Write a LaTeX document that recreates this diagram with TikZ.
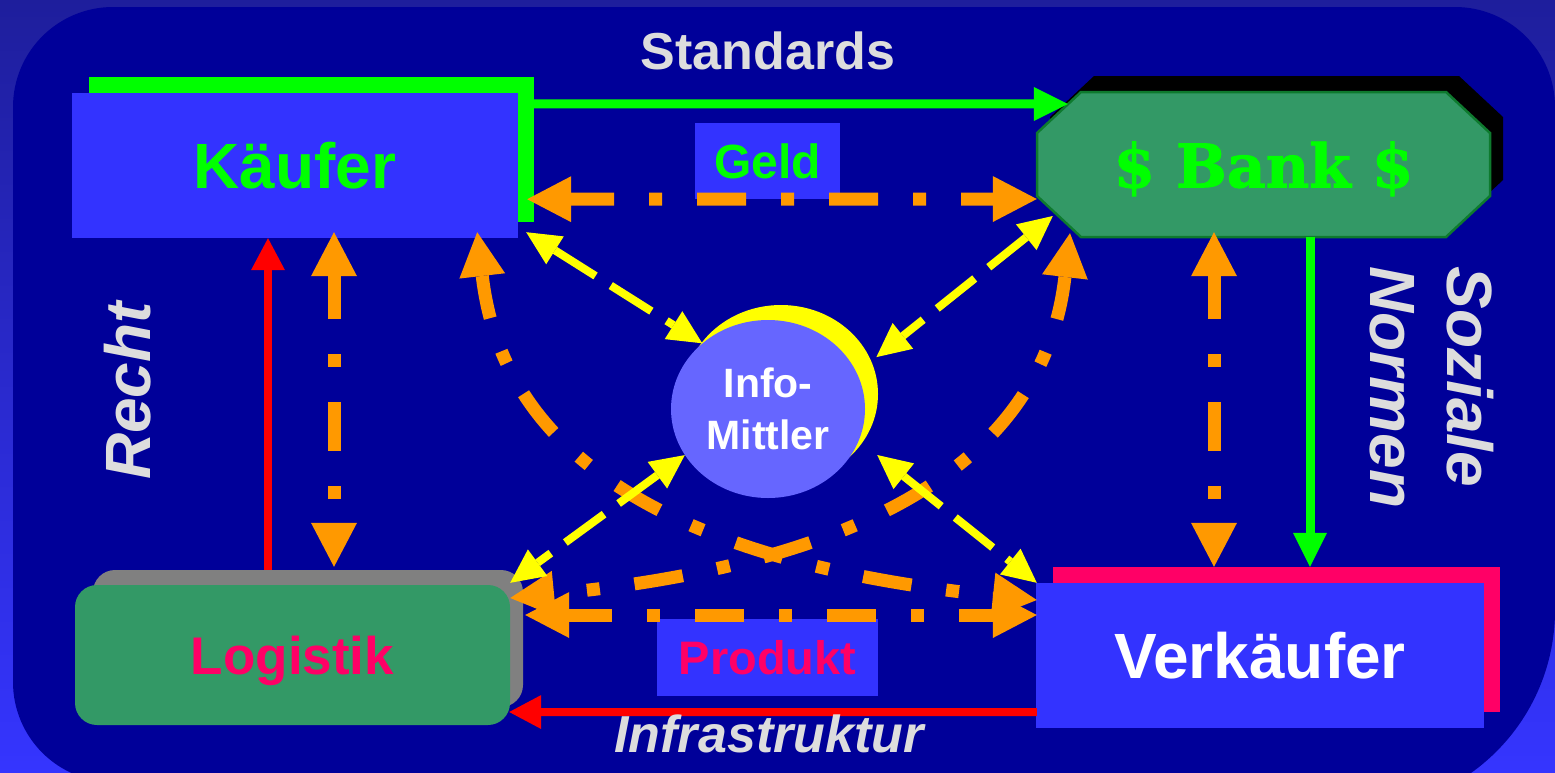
\documentclass[tikz,border=0pt]{standalone}
\usepackage{fontspec}
\setmainfont{Liberation Sans}
\newfontfamily\bankfont[BoldFeatures={FakeBold=1.5}]{DejaVu Serif}
\usetikzlibrary{arrows.meta,shapes.geometric}
\definecolor{bgdark}{HTML}{000099}
\definecolor{bgtop}{HTML}{1E1E9C}
\definecolor{bgbot}{HTML}{3535FF}
\definecolor{boxblue}{HTML}{3333FF}
\definecolor{seagreen}{HTML}{339966}
\definecolor{bankborder}{HTML}{0E7A2E}
\definecolor{mypink}{HTML}{FF0066}
\definecolor{myorange}{HTML}{FF9900}
\definecolor{lgrey}{HTML}{DDDDDD}
\definecolor{infoblue}{HTML}{6666FF}
\definecolor{mylime}{HTML}{00FF00}
\definecolor{myyellow}{HTML}{FFFF00}
\definecolor{myred}{HTML}{FF0000}
\definecolor{shadowgrey}{HTML}{808080}
\begin{document}
\begin{tikzpicture}[x=1pt,y=-1pt,
  sq/.style={rectangle, inner sep=0pt, text depth=0pt},
  infoshape/.style={ellipse, inner sep=0pt, minimum width=194pt, minimum height=178pt},
  lbltext/.style={inner sep=0pt, text=lgrey, text depth=0pt},
  orarrow/.style={draw=myorange, line width=13pt, dash pattern=on 49pt off 35pt on 13pt off 35pt, dash phase=6pt,
     {Triangle[length=44pt,width=46pt,line width=0pt]}-{Triangle[length=44pt,width=46pt,line width=0pt]}},
  ylwarrow/.style={draw=myyellow, line width=8pt, dash pattern=on 48pt off 18pt,
     {Triangle[length=34pt,width=33pt,line width=0pt]}-{Triangle[length=34pt,width=33pt,line width=0pt]}},
  grnarrow/.style={draw=mylime, line width=9pt, -{Triangle[length=34pt,width=34pt,line width=0pt]}},
  redarrow/.style={draw=myred, line width=8pt, -{Triangle[length=32pt,width=34pt,line width=0pt]}}
]
\useasboundingbox (0,0) rectangle (1555,772);
\begin{scope}
\clip (0,0) rectangle (1555,772);
\fill[top color=bgtop, bottom color=bgbot] (0,0) rectangle (1555,772);
\fill[bgdark] (13,107) .. controls (13,51.8) and (57.8,7) .. (113,7)
  -- (1455,7) .. controls (1510.2,7) and (1555,51.8) .. (1555,107)
  -- (1555,610) .. controls (1555,720.5) and (1465.5,810) .. (1355,810)
  -- (113,782) .. controls (57.8,782) and (13,737.2) .. (13,682) -- cycle;
\end{scope}

% shadows / backing shapes
\node[sq, fill=mylime, minimum width=445pt, minimum height=145pt] (kbg) at (311.5,149.5) {};
\fill[black] (1094,76) -- (1459,76) -- (1503,117) -- (1503,180) -- (1459,221) -- (1094,221) -- (1050,180) -- (1050,117) -- cycle;
\filldraw[fill=seagreen, draw=bankborder, line width=2.5pt]
  (1081,92) -- (1446,92) -- (1490,133) -- (1490,196) -- (1446,237) -- (1081,237) -- (1037,196) -- (1037,133) -- cycle;
\node[sq, fill=shadowgrey, rounded corners=22pt, minimum width=430pt, minimum height=137pt] (logshadow) at (308,638.5) {};
\node[sq, fill=mypink, minimum width=447pt, minimum height=145pt] (vbg) at (1276.5,639.5) {};
\node[infoshape, fill=myyellow] (infoshadow) at (781,394) {};

% main nodes
\node[sq, fill=boxblue, text=mylime, minimum width=446pt, minimum height=145pt,
  font=\bfseries\fontsize{64}{64}\selectfont] (kaeufer) at (295,165.5) {Käufer};
\node[sq, text=mylime, minimum width=453pt, minimum height=145pt,
  font=\bankfont\bfseries\fontsize{60}{60}\selectfont] (bank) at (1263.5,164.5) {\$ Bank \$};
\node[sq, fill=seagreen, rounded corners=22pt, text=mypink, minimum width=435pt, minimum height=140pt,
  font=\bfseries\fontsize{53}{53}\selectfont] (logistik) at (292.5,655) {Logistik};
\node[sq, fill=boxblue, text=white, minimum width=448pt, minimum height=145pt,
  font=\bfseries\fontsize{64}{64}\selectfont] (verkaeufer) at (1260,655.5) {Verkäufer};
\node[infoshape, fill=infoblue, text=white, align=center,
  font=\bfseries\fontsize{41}{52}\selectfont] (info) at (768,409) {Info-\\Mittler};
\node[sq, fill=boxblue, text=mylime, minimum width=145pt, minimum height=76pt,
  font=\bfseries\fontsize{48}{48}\selectfont] (geld) at (767.5,161) {Geld};
\node[sq, fill=boxblue, text=mypink, minimum width=221pt, minimum height=77pt,
  font=\bfseries\fontsize{47}{47}\selectfont] (produkt) at (767.5,657.5) {Produkt};

% connectors
\draw[grnarrow] ([shift={(0,27)}]kbg.north east) -- ([shift={(31,-60.5)}]bank.west);
\draw[grnarrow] ([shift={(46.5,0)}]bank.south) -- ([shift={(33.5,0)}]vbg.north);
\draw[redarrow] ([shift={(-40,0)}]logshadow.north) -- ([shift={(-27,0)}]kaeufer.south);
\draw[redarrow] ([shift={(1,-16)}]verkaeufer.south west) -- ([shift={(-1,57)}]logistik.east);

\draw[orarrow] ([shift={(-41,-6)}]kaeufer.south east) .. controls +(28,242) and +(-330,-34) .. ([shift={(1,-55.5)}]verkaeufer.west);
\draw[orarrow] ([shift={(-193.5,-4)}]bank.south) .. controls +(-28,241) and +(330,-32) .. ([shift={(0,-57)}]logistik.east);
\draw[orarrow] ([shift={(-7,-23)}]kbg.south east) -- ([shift={(0,34.5)}]bank.west);
\draw[orarrow] ([shift={(39,-6)}]kaeufer.south) -- ([shift={(26,-3)}]logshadow.north);
\draw[orarrow] ([shift={(-49.5,-5)}]bank.south) -- ([shift={(-62.5,0)}]vbg.north);
\draw[orarrow] ([shift={(15,-40)}]logistik.east) -- ([shift={(1,-40.5)}]verkaeufer.west);

\draw[ylwarrow] ([shift={(8,-6)}]kaeufer.south east) -- (info.135);
\draw[ylwarrow] ([shift={(16,51.5)}]bank.west) -- ([shift={(5,-4)}]infoshadow.20);
\draw[ylwarrow] (info.209) -- ([shift={(-13,13)}]logshadow.north east);
\draw[ylwarrow] ([shift={(12,46)}]info.east) -- ([shift={(1,0)}]verkaeufer.north west);

% labels
\node[lbltext, font=\bfseries\fontsize{52}{52}\selectfont] (standards) at (768,51) {Standards};
\node[lbltext, font=\bfseries\itshape\fontsize{52}{52}\selectfont] (infra) at (769,734) {Infrastruktur};
\node[lbltext, rotate=90, font=\bfseries\itshape\fontsize{64}{64}\selectfont] (recht) at (127,391) {Recht};
\node[inner sep=0pt, text=lgrey, rotate=-90, align=left, font=\bfseries\itshape\fontsize{64}{77}\selectfont] (soziale) at (1431.5,387.5) {Soziale\\Normen};
\end{tikzpicture}
\end{document}
